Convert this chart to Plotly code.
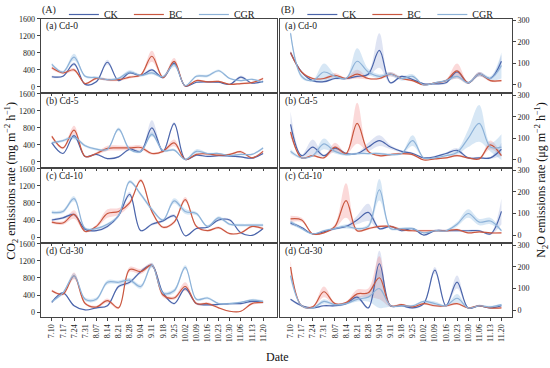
import plotly.graph_objects as go

# ---------------- data ----------------
dates = ["7.10", "7.17", "7.24", "7.31", "8.07", "8.14", "8.21", "8.28", "9.04", "9.11",
         "9.18", "9.25", "10.02", "10.09", "10.16", "10.23", "10.30", "11.06", "11.13", "11.20"]
treatments = ["CK", "BC", "CGR"]
left_labels = ["(a) Cd-0", "(b) Cd-5", "(c) Cd-10", "(d) Cd-30"]
right_labels = ["(a) Cd-0", "(b) Cd-5", "(c) Cd-10", "(d) Cd-30"]
co2_ticks = [0, 400, 800, 1200, 1600]
n2o_ticks = [0, 100, 200, 300]

# CO2 emission rate (mg m-2 h-1), mean and SD
co2_ck_0 = [240, 250, 540, 60, 120, 580, 150, 330, 270, 400, 220, 560, 20, 110, 120, 110, 60, 230, 90, 130]
co2_ck_0_sd = [30, 20, 40, 20, 20, 60, 20, 30, 20, 30, 20, 40, 10, 20, 20, 20, 10, 40, 20, 20]
co2_bc_0 = [450, 330, 400, 80, 200, 170, 170, 230, 280, 720, 220, 600, 20, 150, 120, 130, 60, 80, 100, 200]
co2_bc_0_sd = [40, 30, 40, 20, 30, 30, 30, 30, 30, 130, 30, 80, 10, 20, 20, 20, 10, 20, 20, 30]
co2_cgr_0 = [530, 350, 700, 250, 220, 170, 200, 350, 270, 330, 240, 530, 30, 250, 260, 380, 200, 150, 180, 110]
co2_cgr_0_sd = [40, 30, 80, 30, 30, 30, 30, 40, 30, 40, 30, 60, 10, 30, 30, 30, 20, 20, 20, 20]

co2_ck_5 = [450, 200, 620, 130, 180, 80, 120, 300, 250, 800, 250, 900, 60, 160, 130, 150, 140, 120, 90, 200]
co2_ck_5_sd = [30, 20, 40, 20, 20, 20, 20, 30, 30, 180, 30, 40, 10, 20, 20, 20, 20, 20, 20, 20]
co2_bc_5 = [600, 330, 750, 130, 200, 320, 330, 330, 340, 200, 250, 450, 60, 180, 190, 160, 180, 240, 100, 250]
co2_bc_5_sd = [40, 30, 100, 20, 30, 60, 60, 50, 50, 30, 30, 80, 10, 20, 20, 20, 20, 30, 20, 30]
co2_cgr_5 = [450, 500, 580, 380, 300, 300, 770, 300, 250, 650, 270, 280, 60, 250, 200, 200, 150, 180, 180, 330]
co2_cgr_5_sd = [30, 30, 50, 30, 30, 30, 40, 30, 30, 50, 30, 30, 10, 50, 20, 20, 20, 20, 20, 30]

co2_ck_10 = [400, 450, 530, 180, 150, 250, 500, 1000, 150, 300, 380, 500, 30, 200, 230, 400, 400, 100, 40, 200]
co2_ck_10_sd = [30, 30, 40, 20, 20, 30, 40, 60, 20, 30, 30, 40, 10, 20, 20, 30, 30, 20, 10, 20]
co2_bc_10 = [350, 330, 530, 130, 250, 550, 600, 800, 1330, 600, 230, 350, 880, 250, 150, 220, 80, 100, 250, 200]
co2_bc_10_sd = [40, 40, 100, 20, 40, 100, 80, 60, 40, 40, 30, 40, 60, 30, 20, 30, 20, 20, 30, 30]
co2_cgr_10 = [580, 600, 900, 200, 200, 300, 500, 1300, 1000, 650, 400, 850, 600, 550, 250, 450, 300, 280, 280, 280]
co2_cgr_10_sd = [40, 40, 60, 30, 30, 30, 40, 40, 40, 40, 30, 60, 60, 40, 30, 40, 30, 30, 30, 30]

co2_ck_30 = [230, 450, 150, 50, 100, 150, 600, 700, 950, 1100, 450, 200, 550, 200, 170, 180, 200, 200, 250, 230]
co2_ck_30_sd = [20, 20, 20, 10, 20, 20, 40, 40, 40, 40, 30, 20, 40, 20, 20, 20, 20, 20, 30, 30]
co2_bc_30 = [500, 420, 850, 200, 120, 270, 100, 1000, 950, 1100, 400, 330, 600, 200, 200, 100, 20, 20, 200, 230]
co2_bc_30_sd = [30, 30, 80, 30, 30, 50, 30, 60, 60, 40, 50, 40, 100, 30, 30, 20, 10, 10, 30, 30]
co2_cgr_30 = [250, 450, 850, 300, 300, 700, 700, 750, 600, 1100, 450, 500, 1050, 300, 330, 200, 200, 230, 280, 250]
co2_cgr_30_sd = [30, 30, 60, 40, 40, 50, 40, 50, 50, 60, 40, 50, 50, 30, 30, 20, 20, 20, 30, 30]

# N2O emission rate (ug m-2 h-1), mean and SD
n2o_ck_0 = [150, 60, 20, 15, 30, 30, 40, 50, 160, 10, 40, 25, 5, 5, 10, 60, 10, 50, 30, 110]
n2o_ck_0_sd = [10, 5, 5, 5, 5, 5, 5, 10, 80, 5, 5, 5, 3, 3, 5, 10, 5, 10, 5, 30]
n2o_bc_0 = [150, 60, 30, 30, 45, 30, 50, 30, 30, 50, 30, 20, 0, 10, 20, 65, 10, 50, 20, 20]
n2o_bc_0_sd = [10, 5, 5, 5, 10, 5, 20, 5, 5, 10, 5, 5, 3, 3, 5, 35, 5, 10, 5, 5]
n2o_cgr_0 = [240, 40, 20, 60, 40, 30, 110, 60, 40, 50, 30, 40, 0, 10, 20, 40, 10, 50, 30, 90]
n2o_cgr_0_sd = [15, 10, 5, 40, 10, 5, 60, 15, 10, 10, 10, 10, 3, 3, 5, 10, 5, 10, 10, 60]

n2o_ck_5 = [165, 20, 60, 20, 55, 30, 30, 60, 90, 60, 40, 30, 10, 15, 30, 45, 10, 10, 10, 50]
n2o_ck_5_sd = [60, 5, 35, 5, 10, 5, 5, 20, 25, 10, 5, 5, 3, 5, 5, 10, 5, 5, 5, 30]
n2o_bc_5 = [130, 10, 20, 10, 60, 30, 170, 40, 20, 25, 30, 25, 0, 5, 10, 20, 10, 5, 70, 20]
n2o_bc_5_sd = [10, 3, 5, 3, 20, 5, 95, 5, 5, 5, 5, 5, 3, 3, 3, 5, 3, 3, 20, 5]
n2o_cgr_5 = [40, 10, 20, 75, 40, 25, 30, 30, 30, 25, 30, 90, 10, 10, 20, 35, 100, 170, 60, 60]
n2o_cgr_5_sd = [10, 5, 5, 25, 10, 5, 5, 5, 5, 5, 5, 25, 3, 3, 5, 10, 40, 85, 20, 60]

n2o_ck_10 = [55, 35, 5, 15, 30, 40, 70, 105, 30, 40, 20, 30, 0, 20, 20, 20, 20, 20, 5, 110]
n2o_ck_10_sd = [10, 5, 3, 5, 5, 5, 20, 40, 5, 5, 5, 5, 3, 5, 5, 5, 5, 5, 5, 60]
n2o_bc_10 = [75, 70, 5, 10, 40, 160, 20, 30, 40, 40, 25, 20, 20, 20, 20, 25, 10, 15, 10, 10]
n2o_bc_10_sd = [15, 10, 3, 3, 10, 80, 5, 5, 5, 5, 5, 5, 5, 5, 5, 5, 3, 3, 3, 3]
n2o_cgr_10 = [60, 30, 5, 20, 30, 40, 30, 40, 210, 30, 30, 30, 10, 20, 20, 50, 100, 60, 65, 20]
n2o_cgr_10_sd = [10, 5, 3, 5, 5, 10, 5, 10, 50, 5, 5, 5, 3, 5, 5, 10, 20, 15, 15, 5]

n2o_ck_30 = [50, 20, 10, 20, 20, 30, 60, 10, 215, 20, 20, 10, 30, 185, 20, 130, 10, 20, 10, 20]
n2o_ck_30_sd = [5, 5, 3, 5, 5, 5, 10, 5, 60, 5, 5, 5, 5, 15, 5, 30, 3, 5, 3, 5]
n2o_bc_30 = [200, 20, 15, 85, 30, 35, 75, 80, 150, 20, 25, 15, 30, 20, 20, 30, 10, 20, 10, 10]
n2o_bc_30_sd = [30, 5, 5, 25, 5, 5, 20, 20, 100, 5, 5, 5, 5, 5, 5, 5, 3, 5, 3, 3]
n2o_cgr_30 = [160, 20, 10, 40, 25, 30, 50, 60, 100, 20, 20, 20, 40, 30, 20, 55, 10, 20, 15, 25]
n2o_cgr_30_sd = [20, 5, 3, 10, 5, 5, 10, 20, 90, 5, 5, 5, 5, 10, 5, 20, 3, 5, 5, 5]

co2_panels = [
    [(co2_ck_0, co2_ck_0_sd), (co2_bc_0, co2_bc_0_sd), (co2_cgr_0, co2_cgr_0_sd)],
    [(co2_ck_5, co2_ck_5_sd), (co2_bc_5, co2_bc_5_sd), (co2_cgr_5, co2_cgr_5_sd)],
    [(co2_ck_10, co2_ck_10_sd), (co2_bc_10, co2_bc_10_sd), (co2_cgr_10, co2_cgr_10_sd)],
    [(co2_ck_30, co2_ck_30_sd), (co2_bc_30, co2_bc_30_sd), (co2_cgr_30, co2_cgr_30_sd)],
]
n2o_panels = [
    [(n2o_ck_0, n2o_ck_0_sd), (n2o_bc_0, n2o_bc_0_sd), (n2o_cgr_0, n2o_cgr_0_sd)],
    [(n2o_ck_5, n2o_ck_5_sd), (n2o_bc_5, n2o_bc_5_sd), (n2o_cgr_5, n2o_cgr_5_sd)],
    [(n2o_ck_10, n2o_ck_10_sd), (n2o_bc_10, n2o_bc_10_sd), (n2o_cgr_10, n2o_cgr_10_sd)],
    [(n2o_ck_30, n2o_ck_30_sd), (n2o_bc_30, n2o_bc_30_sd), (n2o_cgr_30, n2o_cgr_30_sd)],
]

# ---------------- style ----------------
W, H = 550, 368
FONT = "Liberation Serif"
LINE_COLORS = ["#4a64aa", "#c9573f", "#8db2d8"]
FILL_COLORS = ["rgba(110,130,200,0.22)", "rgba(240,120,120,0.28)", "rgba(130,180,225,0.32)"]
AXC = "#444444"

tops = [12, 88.5, 165, 241.5]
hgt = 74.5
LEFT_X = [40.7 / W, 277 / W]
RIGHT_X = [280 / W, 512 / W]


def py(px):
    return 1 - px / H


x_idx = list(range(len(dates)))
fig = go.Figure()

for k in range(4):
    for side in range(2):
        ax = 2 * k + side + 1
        xa = "x" if ax == 1 else f"x{ax}"
        ya = "y" if ax == 1 else f"y{ax}"
        panel = co2_panels[k] if side == 0 else n2o_panels[k]
        # bands
        for j, (m, sd) in enumerate(panel):
            up = [a + b for a, b in zip(m, sd)]
            lo = [max(a - b, 0) for a, b in zip(m, sd)]
            fig.add_trace(go.Scatter(x=x_idx, y=up, xaxis=xa, yaxis=ya, mode="lines",
                                     line=dict(width=0, shape="spline", color=FILL_COLORS[j]),
                                     showlegend=False, hoverinfo="skip"))
            fig.add_trace(go.Scatter(x=x_idx, y=lo, xaxis=xa, yaxis=ya, mode="lines",
                                     line=dict(width=0, shape="spline", color=FILL_COLORS[j]),
                                     fill="tonexty", fillcolor=FILL_COLORS[j],
                                     showlegend=False, hoverinfo="skip"))
        # mean lines
        for j, (m, sd) in enumerate(panel):
            fig.add_trace(go.Scatter(x=x_idx, y=m, xaxis=xa, yaxis=ya, mode="lines",
                                     name=treatments[j],
                                     line=dict(width=1.2, shape="spline", color=LINE_COLORS[j]),
                                     showlegend=(k == 0),
                                     legend="legend" if side == 0 else "legend2"))

        xdict = dict(domain=LEFT_X if side == 0 else RIGHT_X, anchor=ya,
                     range=[-1.0, 20.25] if side == 0 else [-0.95, 19.95],
                     tickmode="array", tickvals=x_idx, ticktext=dates,
                     showticklabels=(k == 3), tickangle=-90,
                     ticks="outside", ticklen=3, tickcolor=AXC, tickwidth=1,
                     showline=True, linecolor=AXC, linewidth=1, mirror=True,
                     showgrid=False, zeroline=False,
                     tickfont=dict(family=FONT, size=8, color="#222"))
        ydict = dict(domain=[py(tops[k] + hgt), py(tops[k])], anchor=xa,
                     showline=True, linecolor=AXC, linewidth=1, mirror=True,
                     ticks="outside", ticklen=3, tickcolor=AXC,
                     showgrid=False, zeroline=False,
                     tickfont=dict(family=FONT, size=8, color="#222"))
        if side == 0:
            ydict.update(range=[-115, 1600], tickvals=co2_ticks, side="left")
        else:
            ydict.update(range=[-32, 307], tickvals=n2o_ticks, side="right")
        fig.layout[f"xaxis{'' if ax == 1 else ax}"] = xdict
        fig.layout[f"yaxis{'' if ax == 1 else ax}"] = ydict

annotations = []
for k in range(4):
    annotations.append(dict(x=44 / W, y=py(tops[k] + 8), xref="paper", yref="paper",
                            text=left_labels[k], showarrow=False, xanchor="left", yanchor="middle",
                            font=dict(family=FONT, size=9.5, color="#222")))
    annotations.append(dict(x=283 / W, y=py(tops[k] + 8), xref="paper", yref="paper",
                            text=right_labels[k], showarrow=False, xanchor="left", yanchor="middle",
                            font=dict(family=FONT, size=9.5, color="#222")))

annotations.append(dict(x=12 / W, y=py(177), xref="paper", yref="paper", textangle=-90,
                        text="CO<sub>2</sub> emissions rate (mg m<sup>−2</sup> h<sup>−1</sup>)",
                        showarrow=False, xanchor="center", yanchor="middle",
                        font=dict(family=FONT, size=12, color="#111")))
annotations.append(dict(x=542 / W, y=py(177), xref="paper", yref="paper", textangle=-90,
                        text="N<sub>2</sub>O emissions rate (μg m<sup>−2</sup> h<sup>−1</sup>)",
                        showarrow=False, xanchor="center", yanchor="middle",
                        font=dict(family=FONT, size=12, color="#111")))
annotations.append(dict(x=277 / W, y=py(357), xref="paper", yref="paper", text="Date",
                        showarrow=False, xanchor="center", yanchor="middle",
                        font=dict(family=FONT, size=12, color="#111")))

leg_common = dict(orientation="h", xanchor="left", yanchor="top", y=1.02, traceorder="normal",
                  bgcolor="rgba(0,0,0,0)", font=dict(family=FONT, size=10, color="#222"),
                  itemwidth=30, entrywidth=20, entrywidthmode="pixels")
fig.update_layout(
    width=W, height=H,
    margin=dict(l=0, r=0, t=0, b=0),
    paper_bgcolor="white", plot_bgcolor="white",
    annotations=annotations,
    legend=dict(title=dict(text="(A)", side="left", font=dict(family=FONT, size=10)), x=40 / W, **leg_common),
    legend2=dict(title=dict(text="(B)", side="left", font=dict(family=FONT, size=10)), x=279 / W, **leg_common),
)

fig.write_html("out.html", config={"displayModeBar": False},
               post_script="document.body.style.margin='0';")
